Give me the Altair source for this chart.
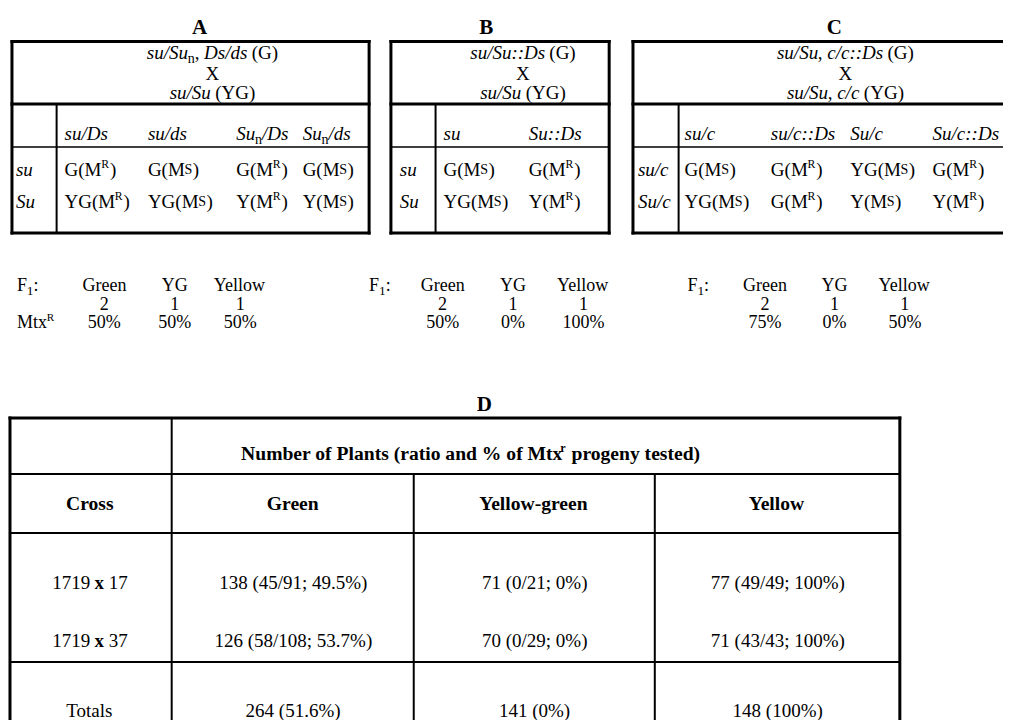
import re
import altair as alt
import pandas as pd

FONT = "Liberation Serif"

# ---------------- content (markup: *italic*, #{bold}, _{sub}, ^{sup}, ~{small cap}) ----------------
panel_titles = ["A", "B", "C"]

A_female = "*su/Su*_{n}, *Ds/ds* (G)"
A_male = "*su/Su* (YG)"
A_cols = ["*su/Ds*", "*su/ds*", "*Su*_{n}*/Ds*", "*Su*_{n}*/ds*"]
A_rows = ["*su*", "*Su*"]
A_cells = [["G(M^{R})", "G(M~{S})", "G(M^{R})", "G(M~{S})"],
           ["YG(M^{R})", "YG(M~{S})", "Y(M^{R})", "Y(M~{S})"]]

B_female = "*su/Su::Ds* (G)"
B_male = "*su/Su* (YG)"
B_cols = ["*su*", "*Su::Ds*"]
B_rows = ["*su*", "*Su*"]
B_cells = [["G(M~{S})", "G(M^{R})"],
           ["YG(M~{S})", "Y(M^{R})"]]

C_female = "*su/Su*, *c/c::Ds* (G)"
C_male = "*su/Su*, *c/c* (YG)"
C_cols = ["*su/c*", "*su/c::Ds*", "*Su/c*", "*Su/c::Ds*"]
C_rows = ["*su/c*", "*Su/c*"]
C_cells = [["G(M~{S})", "G(M^{R})", "YG(M~{S})", "G(M^{R})"],
           ["YG(M~{S})", "G(M^{R})", "Y(M~{S})", "Y(M^{R})"]]

f1_label = "F_{1}:"
mtx_label = "Mtx^{R}"
f1_classes = ["Green", "YG", "Yellow"]
f1_ratio_A = [2, 1, 1]
f1_ratio_B = [2, 1, 1]
f1_ratio_C = [2, 1, 1]
mtxR_pct_A = [50, 50, 50]
mtxR_pct_B = [50, 0, 100]
mtxR_pct_C = [75, 0, 50]

D_title = "D"
D_header = "Number of Plants (ratio and % of Mtx^{r} progeny tested)"
D_colheads = ["Cross", "Green", "Yellow-green", "Yellow"]
D_crosses = ["1719 #{x} 17", "1719 #{x} 37"]
green_counts = [138, 126]
green_tested = ["45/91", "58/108"]
green_pct = [49.5, 53.7]
yg_counts = [71, 70]
yg_tested = ["0/21", "0/29"]
yg_pct = [0, 0]
yellow_counts = [77, 71]
yellow_tested = ["49/49", "43/43"]
yellow_pct = [100, 100]
totals_label = "Totals"
totals_counts = [264, 141, 148]
totals_pct = [51.6, 0, 100]

# ---------------- layout ----------------
W, H = 995, 712
X0, Y0 = 8, 8
X1 = 1011    # right edge of the reference picture
UP = 19      # font size upper tables
F1S = 18     # font size F1 summary
DF = 19      # font size table D body
DHF = 19.6   # font size table D header
TF = 21      # panel title size

panels = [
    dict(left=12, right=372, inner=57, tx=201, hx=214, cols=[65, 149, 238, 305], rlx=16,
         flx=17, fc=[105, 176, 242]),
    dict(left=394, right=614, inner=439, tx=490, hx=527, cols=[447, 533], rlx=403,
         flx=372, fc=[446, 517, 588]),
    dict(left=638, right=1020, inner=684, tx=841, hx=852, cols=[690, 777, 857, 940], rlx=643,
         flx=693, fc=[771, 841, 912]),
]
y_top, y_hdr, y_col, y_bot = 41.5, 104, 147, 233
y_title = 34
y_hlines = [59, 80, 99]
y_colhead = 140
y_rows = [176, 208]
y_f1 = [291, 310, 328]

dL, dR, dT, dB = 10, 907, 418, 760
dV = [173, 417, 660]
dH = [474, 533, 662]
d_title_x, d_title_y = 488, 411
d_head_x, d_head_y = 474, 460
d_col_cx = [90.5, 295, 538.5, 783.5]
d_colhead_y = 510
d_row_y = [589, 647, 717]

# ---------------- font metrics (Times-compatible) ----------------
REG = {' ': 250, '(': 333, ')': 333, ',': 250, '.': 250, '/': 278, ':': 278, ';': 278, '%': 833, '-': 333,
       'A': 722, 'B': 667, 'C': 667, 'D': 722, 'E': 611, 'F': 556, 'G': 722, 'H': 722, 'I': 333, 'J': 389,
       'K': 722, 'L': 611, 'M': 889, 'N': 722, 'O': 722, 'P': 556, 'Q': 722, 'R': 667, 'S': 556, 'T': 611,
       'U': 722, 'V': 722, 'W': 944, 'X': 722, 'Y': 722, 'Z': 611,
       'a': 444, 'b': 500, 'c': 444, 'd': 500, 'e': 444, 'f': 333, 'g': 500, 'h': 500, 'i': 278, 'j': 278,
       'k': 500, 'l': 278, 'm': 778, 'n': 500, 'o': 500, 'p': 500, 'q': 500, 'r': 333, 's': 389, 't': 278,
       'u': 500, 'v': 500, 'w': 722, 'x': 500, 'y': 500, 'z': 444}
ITA = dict(REG)
ITA.update({':': 333, 'A': 611, 'B': 611, 'D': 722, 'S': 500, 'a': 500, 'c': 444, 'd': 500, 'r': 389,
            's': 389, 'u': 500, 'v': 444, 'x': 444, 'y': 444, 'z': 389})
BOLD = dict(REG)
BOLD.update({'%': 1000, 'C': 722, 'G': 778, 'M': 944, 'N': 722, 'P': 611, 'T': 667, 'Y': 722,
             'a': 500, 'b': 556, 'd': 556, 'h': 556, 'k': 556, 'm': 833, 'n': 556, 'p': 556, 'q': 556,
             'r': 444, 't': 333, 'u': 556, 'x': 500})
METRICS = {"n": REG, "i": ITA, "b": BOLD}

TOK = re.compile(r"\*([^*]+)\*|#\{([^}]*)\}|_\{([^}]*)\}|\^\{([^}]*)\}|~\{([^}]*)\}|([^*#_^~]+)")


def parse(s, base="n"):
    # (text, style, size factor, baseline shift in em, extra advance in px)
    segs = []
    for m in TOK.finditer(s):
        it, bd, sb, sp, sc, pl = m.groups()
        if it is not None:
            segs.append((it, "i", 1.0, 0.0, 0.0))
        elif bd is not None:
            segs.append((bd, "b", 1.0, 0.0, 0.0))
        elif sb is not None:
            segs.append((sb, base, 0.74, 0.22, 0.0))
        elif sp is not None:
            segs.append((sp, base, 0.62, -0.40, 1.0))
        elif sc is not None:
            segs.append((sc, base, 0.74, -0.12, 0.5))
        else:
            segs.append((pl, base, 1.0, 0.0, 0.0))
    return segs


def width(t, st, size):
    tab = METRICS[st]
    return sum(tab.get(ch, 500) for ch in t) * size / 1000.0


def place(s, x, y, size, anchor="left", base="n"):
    segs = parse(s, base)
    ws = [width(t, st, size * k) + extra for t, st, k, dy, extra in segs]
    cx = x - sum(ws) / 2 if anchor == "center" else x
    out = []
    for (t, st, k, dy, extra), w in zip(segs, ws):
        lead = len(t) - len(t.lstrip(" "))
        txt = t.strip(" ")
        if txt:
            out.append(dict(t=txt, x=cx + lead * METRICS[st][' '] * size * k / 1000.0,
                            y=y + dy * size, fs=size * k, st=st))
        cx += w
    return out


def pct(p):
    return f"{p:g}%"


texts = []
rules = []

pdata = [
    (A_female, A_male, A_cols, A_rows, A_cells, f1_ratio_A, mtxR_pct_A),
    (B_female, B_male, B_cols, B_rows, B_cells, f1_ratio_B, mtxR_pct_B),
    (C_female, C_male, C_cols, C_rows, C_cells, f1_ratio_C, mtxR_pct_C),
]
for i, (pl, (fem, male, cols, rows_, cells, ratio, mpct)) in enumerate(zip(panels, pdata)):
    texts += place(panel_titles[i], pl["tx"], y_title, TF, "center", base="b")
    texts += place(fem, pl["hx"], y_hlines[0], UP, "center")
    texts += place("X", pl["hx"], y_hlines[1], UP, "center")
    texts += place(male, pl["hx"], y_hlines[2], UP, "center")
    for cx, c in zip(pl["cols"], cols):
        texts += place(c, cx, y_colhead, UP)
    for ry, r, rowcells in zip(y_rows, rows_, cells):
        texts += place(r, pl["rlx"], ry, UP)
        for cx, c in zip(pl["cols"], rowcells):
            texts += place(c, cx, ry, UP)
    texts += place(f1_label, pl["flx"], y_f1[0], F1S)
    if i == 0:
        texts += place(mtx_label, pl["flx"], y_f1[2], F1S)
    for cx, cl, rv, mv in zip(pl["fc"], f1_classes, ratio, mpct):
        texts += place(cl, cx, y_f1[0], F1S, "center")
        texts += place(str(rv), cx, y_f1[1], F1S, "center")
        texts += place(pct(mv), cx, y_f1[2], F1S, "center")
    L, R, I = pl["left"], pl["right"], pl["inner"]
    rules += [
        dict(x=L, x2=R, y=y_top, y2=y_top, w=3),
        dict(x=L, x2=R, y=y_hdr, y2=y_hdr, w=3),
        dict(x=L, x2=R, y=y_col, y2=y_col, w=1.5),
        dict(x=L, x2=R, y=y_bot, y2=y_bot, w=3),
        dict(x=L, x2=L, y=y_top, y2=y_bot, w=3),
        dict(x=R, x2=R, y=y_top, y2=y_bot, w=3),
        dict(x=I, x2=I, y=y_hdr, y2=y_bot, w=2),
    ]

texts += place(D_title, d_title_x, d_title_y, TF, "center", base="b")
texts += place(D_header, d_head_x, d_head_y, DHF, "center", base="b")
for cx, h in zip(d_col_cx, D_colheads):
    texts += place(h, cx, d_colhead_y, DHF, "center", base="b")
for r in range(2):
    vals = [D_crosses[r],
            f"{green_counts[r]} ({green_tested[r]}; {pct(green_pct[r])})",
            f"{yg_counts[r]} ({yg_tested[r]}; {pct(yg_pct[r])})",
            f"{yellow_counts[r]} ({yellow_tested[r]}; {pct(yellow_pct[r])})"]
    for cx, v in zip(d_col_cx, vals):
        texts += place(v, cx, d_row_y[r], DF, "center")
tot_vals = [totals_label] + [f"{c} ({pct(p)})" for c, p in zip(totals_counts, totals_pct)]
for cx, v in zip(d_col_cx, tot_vals):
    texts += place(v, cx, d_row_y[2], DF, "center")

rules += [
    dict(x=dL, x2=dR, y=dT, y2=dT, w=3),
    dict(x=dL, x2=dL, y=dT, y2=dB, w=3),
    dict(x=dR, x2=dR, y=dT, y2=dB, w=3),
    dict(x=dV[0], x2=dV[0], y=dT, y2=dB, w=2),
    dict(x=dV[1], x2=dV[1], y=dH[0], y2=dB, w=2),
    dict(x=dV[2], x2=dV[2], y=dH[0], y2=dB, w=2),
]
for hy in dH:
    rules.append(dict(x=dL, x2=dR, y=hy, y2=hy, w=2))

xs = alt.Scale(domain=[X0, X1], nice=False, zero=False)
ys = alt.Scale(domain=[Y0, Y0 + H], nice=False, zero=False, reverse=True)

rule_layer = alt.Chart(pd.DataFrame(rules)).mark_rule(color="black", strokeCap="square").encode(
    x=alt.X("x:Q", scale=xs, axis=None),
    x2="x2:Q",
    y=alt.Y("y:Q", scale=ys, axis=None),
    y2="y2:Q",
    size=alt.Size("w:Q", scale=None, legend=None),
)

tdf = pd.DataFrame(texts)
layers = [rule_layer]
for st, fstyle, fweight in [("n", "normal", "normal"), ("i", "italic", "normal"), ("b", "normal", "bold")]:
    sub = tdf[tdf["st"] == st]
    if len(sub) == 0:
        continue
    layers.append(
        alt.Chart(sub).mark_text(align="left", baseline="alphabetic", font=FONT, fontStyle=fstyle,
                                 fontWeight=fweight, color="black").encode(
            x=alt.X("x:Q", scale=xs, axis=None),
            y=alt.Y("y:Q", scale=ys, axis=None),
            text="t:N",
            size=alt.Size("fs:Q", scale=None, legend=None),
        )
    )

chart = alt.layer(*layers).properties(
    width=W, height=H, padding=0, autosize=alt.AutoSizeParams(type="none"), background="white"
).configure_view(stroke=None)

chart.save("out.html", embed_options={"renderer": "svg", "actions": False})
